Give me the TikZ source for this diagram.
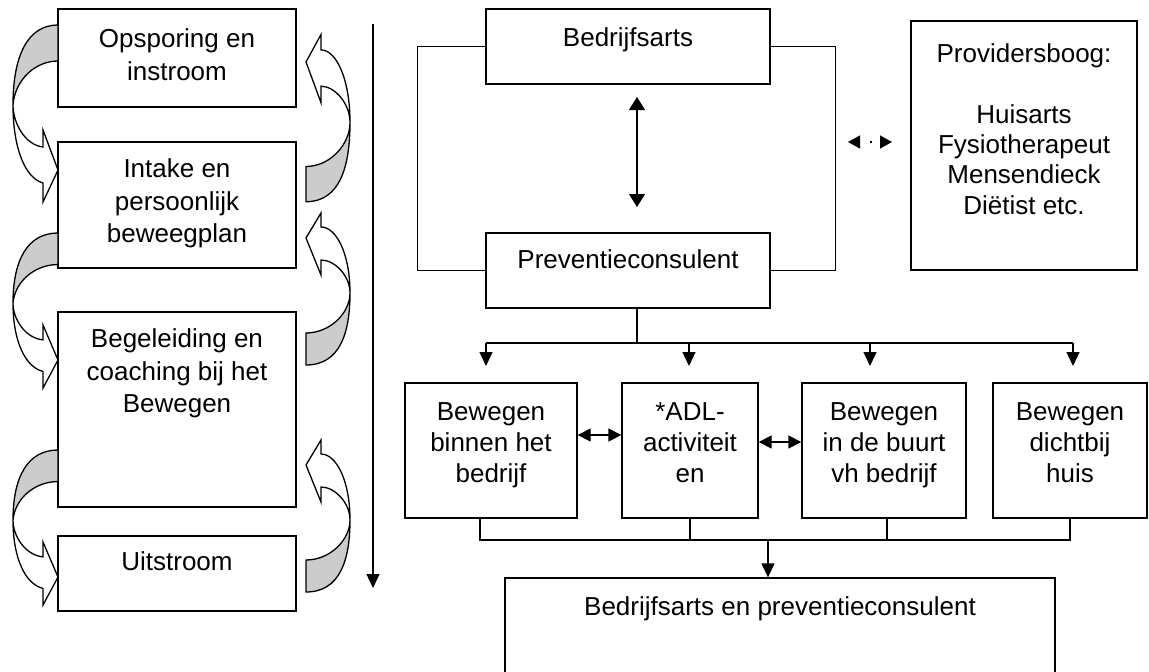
\documentclass[tikz,border=0pt]{standalone}
\usepackage{fontspec}
\setmainfont{Liberation Sans}
\usetikzlibrary{arrows.meta,calc}
\definecolor{ribbon}{HTML}{CCCCCC}
\newcommand\fl{\rule{0pt}{20pt}}
% curved ribbon arrow on the left side: #1 = top y, #2 = vertical scale
\newcommand\LeftRibbon[2]{%
  \begin{scope}[shift={(0,#1)},yscale=#2]
    \filldraw[fill=ribbon] (58,0) .. controls (28,0) and (13,30) .. (13,80)
      .. controls (15,55) and (35,36) .. (58,36) -- cycle;
    \filldraw[fill=white] (13,80) .. controls (13,123) and (25,153) .. (43,158)
      -- (43,177) -- (58,145) -- (43,105) -- (43,122)
      .. controls (25,120) and (13,98) .. (13,80) -- cycle;
  \end{scope}}
% curved ribbon arrow on the right side: #1 = tip y, #2 = vertical scale
\newcommand\RightRibbon[2]{%
  \begin{scope}[shift={(0,#1)},yscale=#2]
    \filldraw[fill=ribbon] (350,55) .. controls (350,95) and (340,127) .. (306,127)
      -- (306,95) .. controls (330,95) and (350,75) .. (350,55) -- cycle;
    \filldraw[fill=white] (350,55) .. controls (350,38) and (335,22) .. (321,22)
      -- (321,37) -- (306,0) -- (321,-25) -- (321,-11)
      .. controls (336,-11) and (350,15) .. (350,55) -- cycle;
  \end{scope}}
\begin{document}
\begin{tikzpicture}[x=1pt,y=-1pt,line width=1.3pt,
  box/.style={draw,fill=white,inner sep=0pt,rectangle},
  txt/.style={align=center,inner sep=0pt,anchor=north,font=\fontsize{26}{32.5}\selectfont},
  txtb/.style={txt,font=\fontsize{26}{31}\selectfont},
  tipA/.style={-{Triangle[length=14pt,width=13pt]}},
  dbl/.style={{Triangle[length=13pt,width=13pt]}-{Triangle[length=13pt,width=13pt]}}]
\useasboundingbox (0,0) rectangle (1149,672);

% left column boxes
\node[box,minimum width=238pt,minimum height=98pt]  (ops)  at (177,58) {};
\node[box,minimum width=238pt,minimum height=126pt] (intk) at (177,205) {};
\node[box,minimum width=238pt,minimum height=195pt] (beg)  at (177,409.5) {};
\node[box,minimum width=238pt,minimum height=75pt]  (uit)  at (177,573.5) {};
\node[txt] (opsT)  at (177,27)  {\fl Opsporing en\\instroom};
\node[txt] (intkT) at (177,157) {\fl Intake en\\persoonlijk\\beweegplan};
\node[txt] (begT)  at (177,327) {\fl Begeleiding en\\coaching bij het\\Bewegen};
\node[txt] (uitT)  at (177,550) {\fl Uitstroom};

% ribbons
\LeftRibbon{25}{1}
\LeftRibbon{233}{0.876}
\LeftRibbon{450}{0.876}
\RightRibbon{62}{1.1}
\RightRibbon{238}{1}
\RightRibbon{465}{1}

% time line
\coordinate (lt) at (373,24);
\coordinate (lb) at (373,588);
\draw[tipA] (lt) -- (lb);

% right part
\node[box,minimum width=284pt,minimum height=75pt]  (bed)  at (628,46.5) {};
\node[box,minimum width=284pt,minimum height=75pt]  (prev) at (628,270.5) {};
\node[box,minimum width=226pt,minimum height=249pt] (prov) at (1024,145.5) {};
\node[txt] (bedT)  at (628,26)  {\fl Bedrijfsarts};
\node[txt] (prevT) at (628,248) {\fl Preventieconsulent};
\node[txt,font=\fontsize{26}{30.3}\selectfont] (provT) at (1024,42)
  {\fl Providersboog:\\[30.3pt]Huisarts\\Fysiotherapeut\\Mensendieck\\Diëtist etc.};

\draw (bed.west) -- ++(-68,0) |- (prev.west);
\draw (bed.east) -- ++(65,0) |- (prev.east);
\coordinate (vt) at (637,97);
\coordinate (vb) at (637,207);
\draw[{Triangle[length=13pt,width=16pt]}-{Triangle[length=13pt,width=16pt]}] (vt) -- (vb);
\coordinate (dl) at (848,142);
\coordinate (dr) at (892,142);
\draw[{Triangle[length=12pt,width=13pt]}-{Triangle[length=12pt,width=13pt]},dash pattern=on 2pt off 30pt,dash phase=22pt] (dl) -- (dr);

% four activity boxes
\node[box,minimum width=172pt,minimum height=135pt] (b1) at (491,450.5) {};
\node[box,minimum width=136pt,minimum height=135pt] (b2) at (690,450.5) {};
\node[box,minimum width=164pt,minimum height=135pt] (b3) at (884,450.5) {};
\node[box,minimum width=154pt,minimum height=135pt] (b4) at (1070,450.5) {};
\node[txtb] (b1T) at (491,400)  {\fl Bewegen\\binnen het\\bedrijf};
\node[txtb] (b2T) at (690,400)  {\fl *ADL-\\activiteit\\en};
\node[txtb] (b3T) at (884,400)  {\fl Bewegen\\in de buurt\\vh bedrijf};
\node[txtb] (b4T) at (1070,400) {\fl Bewegen\\dichtbij\\huis};

% distribution from Preventieconsulent
\coordinate (hub) at (637,343);
\coordinate (hl) at (486,343);
\coordinate (hr) at (1073,343);
\coordinate (d1) at (486,366);
\coordinate (d2) at (689,366);
\coordinate (d3) at (870,366);
\coordinate (d4) at (1073,366);
\draw (prev.south -| hub) -- (hub);
\draw (hl) -- (hr);
\draw[tipA] (d1 |- hub) -- (d1);
\draw[tipA] (d2 |- hub) -- (d2);
\draw[tipA] (d3 |- hub) -- (d3);
\draw[tipA] (d4 |- hub) -- (d4);

\draw[dbl] ([yshift=15.5pt]b1.east) -- ([yshift=15.5pt]b2.west);
\draw[dbl] ([yshift=8.5pt]b2.east) -- ([yshift=8.5pt]b3.west);

% bottom box
\node[box,minimum width=550pt,minimum height=98pt] (bot) at (780,627) {};
\node[txt] (botT) at (780,595) {\fl Bedrijfsarts en preventieconsulent};
\coordinate (jn) at (768,540);
\draw ([xshift=-11pt]b1.south) |- (b4.south |- jn) -- (b4.south);
\draw (b2.south) -- (b2.south |- jn);
\draw ([xshift=3pt]b3.south) -- ([xshift=3pt]b3.south |- jn);
\draw[tipA] (jn) -- (jn |- bot.north);
\end{tikzpicture}
\end{document}
